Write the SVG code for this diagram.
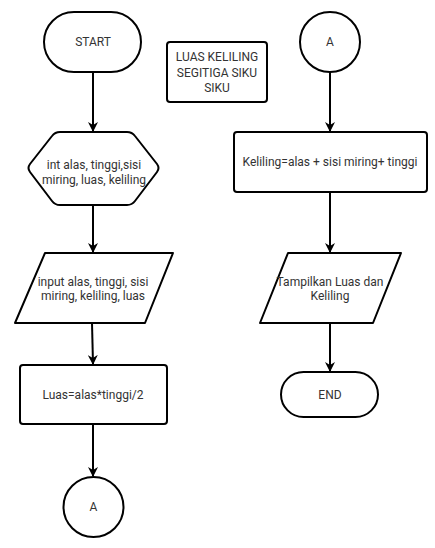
<svg xmlns="http://www.w3.org/2000/svg" width="435" height="548" viewBox="0 0 435 548">
<style>
.s{fill:#fff;stroke:#000;stroke-width:2;stroke-linejoin:round}
.t{font-family:Roboto,"Liberation Sans",sans-serif;font-size:12px;fill:#333;text-anchor:middle}
.c{fill:none;stroke:#000;stroke-width:2}
</style>
<defs>
<marker id="ah" markerWidth="10" markerHeight="10" viewBox="0 0 10 10" refX="9" refY="5" orient="auto" markerUnits="userSpaceOnUse">
<path d="M0,0 L10,5 L0,10 L3,5 Z" fill="#000"/>
</marker>
</defs>
<rect width="435" height="548" fill="#fff"/>
<g id="connectors">
<line class="c" x1="93" y1="72" x2="93" y2="131" marker-end="url(#ah)"/>
<line class="c" x1="93" y1="205" x2="93" y2="252" marker-end="url(#ah)"/>
<line class="c" x1="92" y1="323" x2="93" y2="364" marker-end="url(#ah)"/>
<line class="c" x1="93" y1="424" x2="93" y2="476" marker-end="url(#ah)"/>
<line class="c" x1="330" y1="72" x2="330" y2="131" marker-end="url(#ah)"/>
<line class="c" x1="330" y1="192" x2="330" y2="252" marker-end="url(#ah)"/>
<line class="c" x1="330" y1="323" x2="330" y2="371" marker-end="url(#ah)"/>
</g>
<g id="start">
<rect class="s" x="44" y="12" width="97" height="60" rx="30"/>
<text class="t" x="93" y="46">START</text>
</g>
<g id="title">
<rect class="s" x="167" y="42" width="100" height="60" rx="3"/>
<text class="t" x="217" y="61">LUAS KELILING</text>
<text class="t" x="217" y="77">SEGITIGA SIKU</text>
<text class="t" x="217" y="92">SIKU</text>
</g>
<g id="decl">
<path class="s" d="M60,132 L127,132 Q132,132 135,136 L157,164 Q160,168 157,172 L135,201 Q132,205 127,205 L60,205 Q55,205 52,201 L30,172 Q27,168 30,164 L52,136 Q55,132 60,132 Z"/>
<text class="t" x="94" y="169">int alas, tinggi,sisi</text>
<text class="t" x="94" y="184">miring, luas, keliling</text>
</g>
<g id="input">
<path class="s" d="M45,253 L173,253 L145,323 L15,323 Z"/>
<text class="t" x="93" y="286">input alas, tinggi, sisi</text>
<text class="t" x="93" y="300">miring, keliling, luas</text>
</g>
<g id="luas">
<rect class="s" x="20" y="365" width="147" height="59" rx="3"/>
<text class="t" x="93" y="399">Luas=alas*tinggi/2</text>
</g>
<g id="connA1">
<circle class="s" cx="93.5" cy="507" r="30"/>
<text class="t" x="93.5" y="511">A</text>
</g>
<g id="connA2">
<circle class="s" cx="330" cy="42" r="30"/>
<text class="t" x="330" y="46">A</text>
</g>
<g id="keliling">
<rect class="s" x="234" y="132" width="193" height="60" rx="3"/>
<text class="t" x="330" y="166">Keliling=alas + sisi miring+ tinggi</text>
</g>
<g id="output">
<path class="s" d="M288,253 L401,253 L373,323 L260,323 Z"/>
<text class="t" x="330" y="286">Tampilkan Luas dan</text>
<text class="t" x="330" y="300">Keliling</text>
</g>
<g id="end">
<rect class="s" x="281" y="372" width="97" height="45" rx="22.5"/>
<text class="t" x="330" y="399">END</text>
</g>
</svg>
